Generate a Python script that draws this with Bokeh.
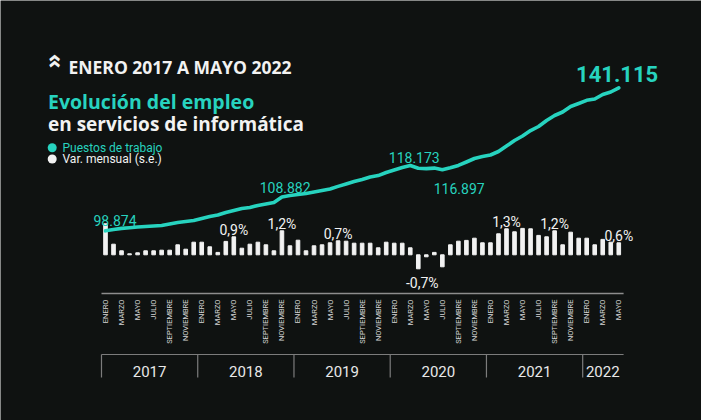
import math
from bokeh.plotting import figure
from bokeh.models import Range1d, Label, ColumnDataSource
from bokeh.core.properties import value
from bokeh.embed import file_html
from bokeh.resources import INLINE

# ---------------- data ----------------
month_names = ["ENERO", "FEBRERO", "MARZO", "ABRIL", "MAYO", "JUNIO", "JULIO",
               "AGOSTO", "SEPTIEMBRE", "OCTUBRE", "NOVIEMBRE", "DICIEMBRE"]
years = [2017, 2018, 2019, 2020, 2021, 2022]
n_months = 65  # enero 2017 .. mayo 2022

puestos = [98874, 99290, 99600, 99800, 100000, 100150, 100300, 100450, 100900, 101330,
           101630, 101930, 102500, 103100, 103550, 104300, 104880, 105470, 105770, 106360,
           106800, 107250, 108882, 109300, 109600, 109900, 110350, 110800, 111230, 112000,
           112700, 113450, 114040, 114780, 115200, 116100, 116840, 117580, 118173, 117350,
           117250, 117400, 116897, 117500, 118200, 119200, 120240, 120830, 121270, 122300,
           123930, 125550, 126880, 128500, 129690, 131460, 132940, 133970, 135600, 136480,
           137420, 137800, 139140, 139870, 141115]

var_mensual = [1.55, 0.53, 0.2, 0.05, 0.1, 0.2, 0.2, 0.23, 0.23, 0.5,
               0.28, 0.63, 0.63, 0.4, 0.12, 0.67, 0.9, 0.33, 0.53, 0.63,
               0.5, 0.2, 1.2, 0.45, 0.73, 0.2, 0.45, 0.5, 0.6, 0.7,
               0.68, 0.58, 0.58, 0.58, 0.35, 0.63, 0.58, 0.58, 0.35, -0.7,
               -0.1, 0.12, -0.6, 0.5, 0.68, 0.72, 0.83, 0.6, 0.6, 1.05,
               1.3, 1.15, 1.32, 1.3, 0.97, 0.9, 1.2, 0.5, 1.13, 0.83,
               0.83, 0.5, 0.77, 0.63, 0.6]

puestos_label_idx = [0, 22, 38, 42, 64]
var_label_idx = [16, 22, 29, 39, 50, 56, 64]

# ---------------- layout ----------------
W, H = 701, 420
OFF = 0
BG = "#0f1211"
TEAL = "#27d3bf"
WHITE = "#f2f2f2"
X0, DX = 105.0, 8.02          # reference x of first month, px per month
Y0, PX_PCT = 254.3, 20.0      # reference y of bar baseline, px per 1%
J_END, J_Y, J_PX = 141115, 87.3, 295.3   # jobs per px


def dx(ref_x):
    return (ref_x - X0) / DX


def dy(ref_y):
    return (Y0 - ref_y) / PX_PCT


x_range = Range1d(dx(OFF), dx(OFF + W))
y_range = Range1d(dy(OFF + H), dy(OFF))
jobs_range = Range1d(J_END + (J_Y - (OFF + H)) * J_PX, J_END + (J_Y - OFF) * J_PX)

p = figure(width=W, height=H, x_range=x_range, y_range=y_range,
           output_backend="svg", toolbar_location=None,
           x_axis_type=None, y_axis_type=None, min_border=0,
           background_fill_color=BG, border_fill_color=BG, outline_line_color=None)
p.extra_y_ranges = {"jobs": jobs_range}

idx = list(range(n_months))

# bars
p.vbar(x=idx, top=var_mensual, bottom=0, width=0.45, color=WHITE)
# line
p.line(x=idx, y=puestos, y_range_name="jobs", line_width=3.6, color=TEAL,
       line_join="round", line_cap="round")

# axis line and year boxes
first_idx = [(y - years[0]) * 12 for y in years]
p.segment(x0=[-0.5], x1=[n_months - 0.4], y0=[dy(293)], y1=[dy(293)],
          line_color="#8d8d8d", line_width=1.5)
p.segment(x0=[-0.5], x1=[n_months - 0.4], y0=[dy(354)], y1=[dy(354)],
          line_color="#7c7c7c", line_width=1.2)
p.segment(x0=[f - 0.5 for f in first_idx], x1=[f - 0.5 for f in first_idx],
          y0=[dy(354)] * len(years), y1=[dy(377)] * len(years),
          line_color="#7c7c7c", line_width=1.2)

# month labels
m_idx = list(range(0, n_months, 2))
msrc = ColumnDataSource(dict(x=m_idx, y=[dy(299)] * len(m_idx),
                             t=[month_names[i % 12] for i in m_idx]))
p.text(x="x", y="y", text="t", source=msrc, angle=math.pi / 2,
       text_align="right", text_baseline="middle",
       text_font=value("Roboto"), text_font_size="7.5px",
       text_color="#d6d6d6")

# year labels
year_centers = []
for k, f in enumerate(first_idx):
    end = first_idx[k + 1] - 0.5 if k + 1 < len(first_idx) else n_months - 0.5
    year_centers.append((f - 0.5 + end) / 2)
ysrc = ColumnDataSource(dict(x=year_centers, y=[dy(371)] * len(years),
                             t=[str(y) for y in years]))
p.text(x="x", y="y", text="t", source=ysrc, text_align="center",
       text_baseline="middle", text_font=value("Roboto"),
       text_font_size="15px", text_color="#e8e8e8")

# percent labels
for i in var_label_idx:
    v = var_mensual[i]
    t = f"{v:.1f}".replace(".", ",") + "%"
    if v >= 0:
        p.add_layout(Label(x=i, y=v + 7 / PX_PCT, text=t, text_align="center",
                           text_baseline="alphabetic", text_font="Roboto",
                           text_font_size="14px", text_color=WHITE))
    else:
        p.add_layout(Label(x=i + 0.5, y=v - 6 / PX_PCT, text=t, text_align="center",
                           text_baseline="top", text_font="Roboto",
                           text_font_size="14px", text_color=WHITE))

# puestos labels: (dx months, dy px above point, align, size, bold)
placement = {0: (-1.5, 10.5, "left", "14px", "normal"),
             22: (0.4, 9.5, "center", "14px", "normal"),
             38: (0.5, 8, "center", "14px", "normal"),
             42: (2.1, -18.5, "center", "14px", "normal"),
             64: (-0.2, 14, "center", "22px", "bold")}
for i in puestos_label_idx:
    ox, oy, al, fs, fw = placement[i]
    t = f"{puestos[i]:,}".replace(",", ".")
    p.add_layout(Label(x=i + ox, y=puestos[i] + oy * J_PX, y_range_name="jobs",
                       text=t, text_align=al, text_baseline="alphabetic",
                       text_font="Roboto", text_font_size=fs,
                       text_font_style=fw, text_color=TEAL))

# titles
p.add_layout(Label(x=dx(51), y=dy(60.5), text="»", angle=math.pi / 2,
                   text_align="center", text_baseline="middle",
                   text_font="Open Sans", text_font_size="24px",
                   text_font_style="bold", text_color=WHITE))
p.add_layout(Label(x=dx(68), y=dy(66.5), text="ENERO 2017 A MAYO 2022",
                   text_baseline="alphabetic", text_font="Open Sans",
                   text_font_size="17.5px", text_font_style="bold", text_color=WHITE))
p.add_layout(Label(x=dx(47.5), y=dy(100.5), text="Evolución del empleo",
                   text_baseline="alphabetic", text_font="Open Sans",
                   text_font_size="19.5px", text_font_style="bold", text_color=TEAL))
p.add_layout(Label(x=dx(47.5), y=dy(123), text="en servicios de informática",
                   text_baseline="alphabetic", text_font="Open Sans",
                   text_font_size="19px", text_font_style="bold", text_color=WHITE))

# legend
p.scatter(x=[dx(51.7), dx(51.7)], y=[dy(147.3), dy(158.5)], size=9,
          color=[TEAL, WHITE], line_color=None)
p.add_layout(Label(x=dx(62), y=dy(147.3), text="Puestos de trabajo",
                   text_baseline="middle", text_font="Roboto",
                   text_font_size="12px", text_color=TEAL))
p.add_layout(Label(x=dx(62), y=dy(158.5), text="Var. mensual (s.e.)",
                   text_baseline="middle", text_font="Roboto",
                   text_font_size="12px", text_color=WHITE))

open("out.html", "w").write(file_html(p, INLINE))
